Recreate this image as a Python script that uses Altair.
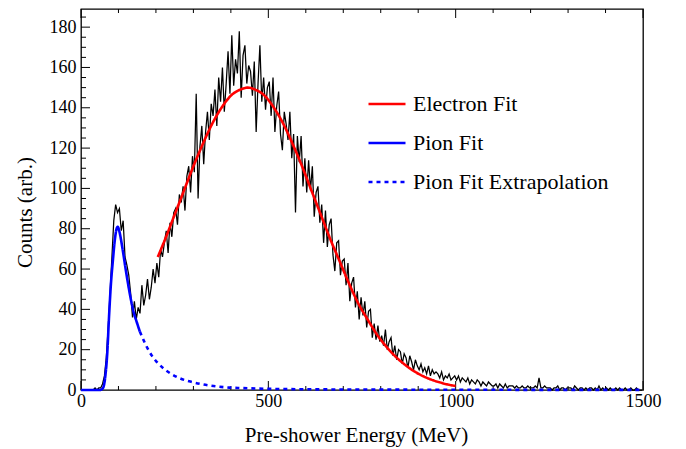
import altair as alt
import pandas as pd

# ---------------- data ----------------
bin_width = 5  # MeV per histogram bin
hist_counts = [
    0, 0, 0, 0, 0, 0, 0, 1, 0, 1,                      # 0-45
    1, 3, 7, 16, 31, 48, 66, 84, 92, 88,               # 50-95
    90, 79, 84, 66, 62, 57, 48, 36, 44, 35,            # 100-145
    41, 38, 52, 42, 47, 55, 45, 51, 60, 53,            # 150-195
    63, 56, 70, 66, 73, 79, 68, 83, 76, 88,            # 200-245
    90, 82, 97, 93, 101, 89, 106, 111, 98, 116,        # 250-295
    108, 147, 95, 121, 131, 112, 128, 138, 124, 142,   # 300-345
    136, 149, 131, 155, 143, 160, 138, 152, 168, 147,  # 350-395
    176, 151, 164, 157, 178, 145, 166, 171, 152, 161,  # 400-445
    158, 146, 163, 128, 152, 171, 143, 155, 139, 150,  # 450-495
    153, 136, 155, 128, 141, 148, 127, 119, 138, 132,  # 500-545
    124, 138, 115, 127, 88, 126, 113, 126, 101, 115,   # 550-595
    98, 114, 99, 111, 86, 98, 101, 83, 92, 73,         # 600-645
    89, 71, 82, 85, 67, 59, 73, 74, 57, 64,            # 650-695
    65, 52, 63, 44, 53, 56, 41, 49, 35, 46,            # 700-745
    37, 44, 31, 39, 40, 26, 33, 25, 32, 24,            # 750-795
    27, 22, 30, 20, 24, 26, 17, 22, 15, 20,            # 800-845
    19, 13, 18, 16, 11, 17, 14, 10, 15, 12,            # 850-895
    10, 13, 9, 11, 8, 12, 7, 10, 8, 9,                 # 900-945
    8, 6, 9, 5, 7, 6, 8, 5, 6, 7,                      # 950-995
    5, 7, 4, 6, 5, 4, 6, 3, 5, 4,                      # 1000-1045
    3, 5, 4, 2, 4, 3, 2, 4, 3, 2,                      # 1050-1095
    2, 3, 1, 3, 2, 1, 3, 1, 2, 2,                      # 1100-1145
    2, 1, 2, 1, 1, 2, 1, 1, 2, 1,                      # 1150-1195
    1, 1, 2, 1, 6, 1, 1, 2, 1, 1,                      # 1200-1245
    1, 0, 1, 1, 2, 0, 1, 1, 0, 1,                      # 1250-1295
    1, 1, 0, 2, 1, 0, 1, 1, 0, 1,                      # 1300-1345
    0, 1, 1, 0, 1, 0, 2, 0, 1, 0,                      # 1350-1395
    1, 0, 1, 0, 0, 1, 0, 1, 0, 0,                      # 1400-1445
    1, 0, 0, 1, 0, 0, 1, 0, 0, 0,                      # 1450-1495
]
hist_E = [i * bin_width + bin_width / 2 for i in range(len(hist_counts))]

electron_E = [205, 225, 250, 275, 300, 325, 350, 375, 400, 425, 445, 465, 490,
              515, 540, 565, 590, 615, 640, 665, 690, 715, 740, 765, 790, 815,
              840, 865, 890, 915, 940, 965, 990, 1000]
electron_v = [66, 75, 87, 99, 111, 122, 132, 140, 146, 149, 150, 149, 146,
              140, 132, 122, 111, 99, 87, 75, 64, 53, 43, 35, 27.5, 21.5,
              16.5, 12.5, 9.2, 6.7, 4.8, 3.4, 2.3, 2.0]

pion_E = [0, 50, 55, 60, 65, 70, 75, 80, 85, 90, 95, 98, 102, 110, 120, 130, 140, 150, 157]
pion_v = [0, 0, 0.3, 1.5, 7, 18, 37, 53, 64, 74, 80, 81, 79, 71, 59, 48, 39, 33, 29]

ext_E = [157, 170, 180, 190, 202, 220, 238, 260, 300, 340, 389, 430, 469, 550,
         650, 800, 1000, 1200, 1500]
ext_v = [29, 23.5, 19.8, 16.8, 14, 10.7, 8.3, 6.1, 3.8, 2.3, 1.3, 0.95, 0.7, 0.45,
         0.3, 0.2, 0.12, 0.08, 0.05]

series_names = ["Electron Fit", "Pion Fit", "Pion Fit Extrapolation"]
series_colors = ["#ff0000", "#0000ff", "#0000ff"]
series_dash = [[1, 0], [1, 0], [4, 4]]

y_major = list(range(0, 181, 20))
y_minor = [v for v in range(0, 190, 5) if v % 20]
x_major = [0, 500, 1000, 1500]
x_minor = [v for v in range(100, 1500, 100) if v % 500]

# ---------------- tables ----------------
hist_df = pd.DataFrame({"E": hist_E, "v": hist_counts})
fit_df = pd.concat([
    pd.DataFrame({"E": electron_E, "v": electron_v, "series": series_names[0]}),
    pd.DataFrame({"E": pion_E, "v": pion_v, "series": series_names[1]}),
    pd.DataFrame({"E": ext_E, "v": ext_v, "series": series_names[2]}),
], ignore_index=True)

W, H = 562, 381
FONT = "Liberation Serif"
xscale = alt.Scale(domain=[0, 1500], nice=False, zero=False)
yscale = alt.Scale(domain=[0, 189], nice=False, zero=False)

hist = alt.Chart(hist_df).mark_line(color="black", strokeWidth=1.25).encode(
    x=alt.X("E:Q", scale=xscale,
            axis=alt.Axis(values=x_major, title="Pre-shower Energy (MeV)",
                          ticks=False, tickSize=0, domain=False, grid=False,
                          labelPadding=2, labelBaseline="top", labelFlush=False,
                          labelOverlap=False, format="d", titleX=275, titleY=51,
                          titleBaseline="alphabetic", titleAlign="center")),
    y=alt.Y("v:Q", scale=yscale,
            axis=alt.Axis(values=y_major, title="Counts (arb.)",
                          ticks=False, tickSize=0, domain=False, grid=False,
                          labelPadding=5, labelFlush=False, labelOverlap=False,
                          format="d", titleX=-56, titleY=203, titleAngle=-90,
                          titleBaseline="middle", titleAlign="center")),
)

legend_cfg = dict(title=None, orient="none", legendX=286, legendY=75,
                  symbolType="stroke", symbolSize=1369, symbolStrokeWidth=2.6,
                  labelOffset=6, rowPadding=8, padding=0,
                  labelFont=FONT, labelFontSize=22, labelColor="black", labelLimit=400)

fits = alt.Chart(fit_df).mark_line(strokeWidth=2.6, interpolate="monotone").encode(
    x=alt.X("E:Q", scale=xscale),
    y=alt.Y("v:Q", scale=yscale),
    color=alt.Color("series:N",
                    scale=alt.Scale(domain=series_names, range=series_colors),
                    legend=alt.Legend(**legend_cfg)),
    strokeDash=alt.StrokeDash("series:N",
                              scale=alt.Scale(domain=series_names, range=series_dash),
                              legend=alt.Legend(**legend_cfg)),
    order=alt.Order("E:Q"),
)

def yticks(vals, length):
    return alt.Chart(pd.DataFrame({"v": vals})).mark_rule(color="black", strokeWidth=1).encode(
        y=alt.Y("v:Q", scale=yscale), x=alt.value(0), x2=alt.value(length))

def xticks(vals, length, top):
    base = alt.Chart(pd.DataFrame({"E": vals})).mark_rule(color="black", strokeWidth=1)
    if top:
        return base.encode(x=alt.X("E:Q", scale=xscale), y=alt.value(0), y2=alt.value(length))
    return base.encode(x=alt.X("E:Q", scale=xscale), y=alt.value(H), y2=alt.value(H - length))

chart = alt.layer(
    yticks(y_major, 9), yticks(y_minor, 5),
    xticks(x_major, 9, False), xticks(x_minor, 4, False),
    xticks(x_major, 9, True), xticks(x_minor, 4, True),
    hist, fits,
).properties(
    width=W, height=H,
    background="white",
    autosize=alt.AutoSizeParams(type="none"),
    padding={"left": 73, "top": 1, "right": 35, "bottom": 58},
).configure_view(
    stroke="black", strokeWidth=1.3
).configure_axis(
    labelFont=FONT, labelFontSize=18, labelColor="black",
    titleFont=FONT, titleFontSize=21, titleColor="black", titleFontWeight="normal",
)

chart.save("out.html", embed_options={"renderer": "svg", "actions": False})
